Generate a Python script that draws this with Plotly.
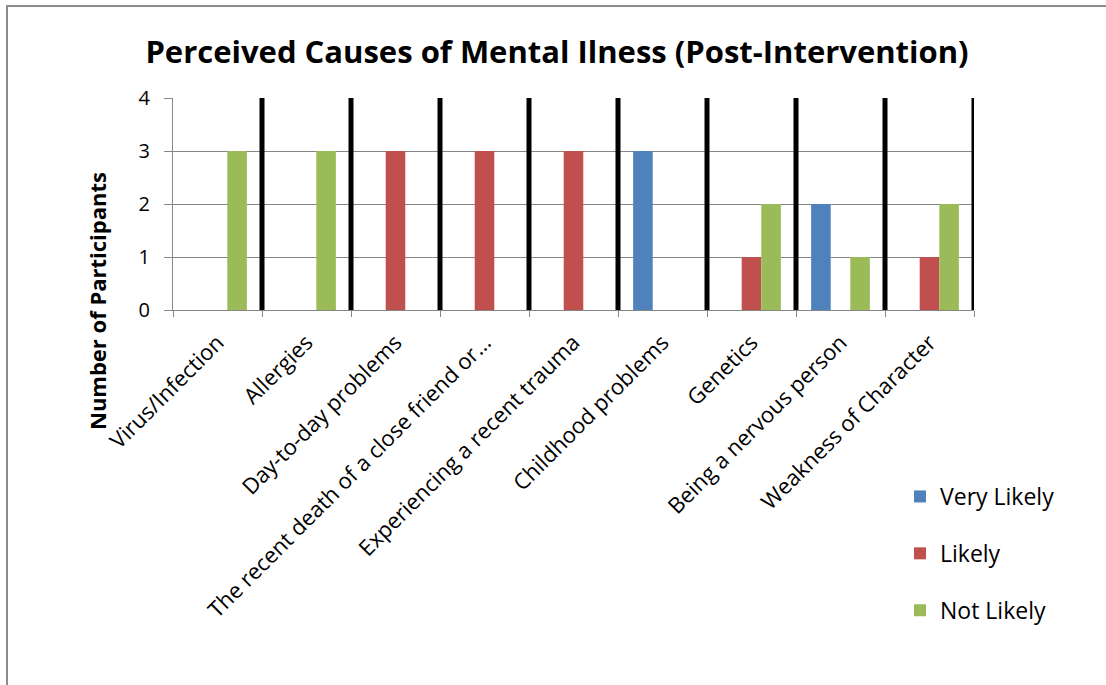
import plotly.graph_objects as go

# Survey categories and counts per response level
categories = [
    "Virus/Infection",
    "Allergies",
    "Day-to-day problems",
    "The recent death of a close friend or…",
    "Experiencing a recent trauma",
    "Childhood problems",
    "Genetics",
    "Being a nervous person",
    "Weakness of Character",
]
very_likely = [0, 0, 0, 0, 0, 3, 0, 2, 0]
likely = [0, 0, 3, 3, 3, 0, 1, 0, 1]
not_likely = [3, 3, 0, 0, 0, 0, 2, 1, 2]
y_ticks = [0, 1, 2, 3, 4]

FONT = "Open Sans"
W, H = 1106, 685
L, R, T, B = 173, 974, 98, 310


def px_x(px):
    """Pixel column -> plot-area paper x."""
    return (px - L) / (R - L)


def px_y(py):
    """Pixel row -> plot-area paper y."""
    return (B - py) / (B - T)


series = [
    ("Very Likely", very_likely, "#4F81BD"),
    ("Likely", likely, "#C0504D"),
    ("Not Likely", not_likely, "#9BBB59"),
]

fig = go.Figure()
for name, vals, color in series:
    fig.add_trace(go.Bar(
        x=categories, y=vals, name=name, legendgroup=name,
        marker=dict(color=color, line=dict(width=0)),
    ))

# Thick dark dividers on the category boundaries
shapes = []
for i in range(len(categories)):
    shapes.append(dict(
        type="line", xref="x", yref="y",
        x0=i + 0.5, x1=i + 0.5, y0=0, y1=max(y_ticks),
        line=dict(color="black", width=5), layer="above",
    ))
# Outer chart frame (only its left and top edges fall inside the canvas)
shapes.append(dict(
    type="rect", xref="paper", yref="paper",
    x0=px_x(7), x1=px_x(1115), y0=px_y(695), y1=px_y(6),
    line=dict(color="#8C8C8C", width=2), fillcolor="rgba(0,0,0,0)",
))

fig.update_layout(
    width=W, height=H,
    margin=dict(l=L, r=W - R, t=T, b=H - B),
    paper_bgcolor="white", plot_bgcolor="white",
    barmode="group", bargap=0.34, bargroupgap=0,
    font=dict(family=FONT, color="black"),
    title=dict(
        text="<b>Perceived Causes of Mental Ilness (Post-Intervention)</b>",
        x=557 / W, xanchor="center", xref="container",
        y=1 - 52 / H, yanchor="middle", yref="container",
        font=dict(size=31, family=FONT, color="black"),
    ),
    xaxis=dict(
        type="category", range=[-0.5, len(categories) - 0.5],
        tickangle=-45, tickson="boundaries", ticks="outside", ticklen=6,
        tickcolor="#868686", tickwidth=1, ticklabelstandoff=10,
        showgrid=False, showline=True, linecolor="#868686", linewidth=1,
        tickfont=dict(size=22, family=FONT, color="black"),
        zeroline=False,
    ),
    yaxis=dict(
        range=[0, max(y_ticks)], tickvals=y_ticks, ticks="outside", ticklen=8,
        tickcolor="#868686", tickwidth=1, ticklabelstandoff=10,
        showgrid=True, gridcolor="#868686", gridwidth=1,
        showline=True, linecolor="#868686", linewidth=1,
        zeroline=False,
        tickfont=dict(size=20, family=FONT, color="black"),
    ),
    legend=dict(
        x=px_x(900), xanchor="left", xref="paper",
        y=px_y(475), yanchor="top", yref="paper",
        font=dict(size=23, family=FONT, color="black"),
        tracegroupgap=24, bgcolor="rgba(0,0,0,0)",
    ),
    annotations=[dict(
        text="<b>Number of Participants</b>", textangle=-90,
        xref="paper", yref="paper",
        x=px_x(97), y=px_y(301), xanchor="center", yanchor="middle",
        showarrow=False, font=dict(size=22, family=FONT, color="black"),
    )],
    shapes=shapes,
)

fig.write_html("out.html")
